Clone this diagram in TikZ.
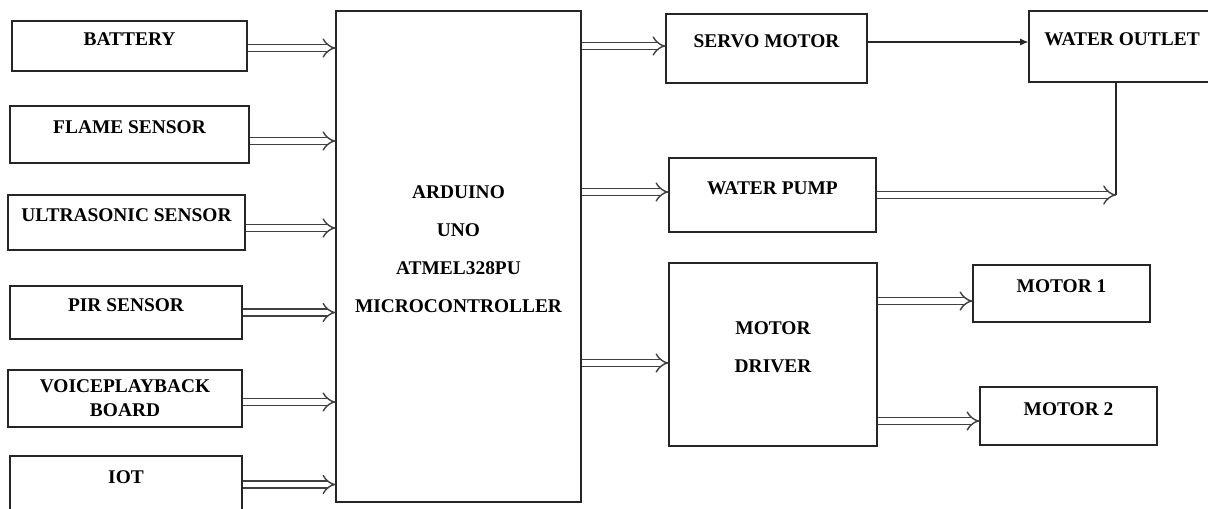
\documentclass[tikz,border=0pt]{standalone}
\usepackage{fontspec}
\setmainfont{Liberation Serif}
\usetikzlibrary{arrows.meta,calc}
\newcommand{\pxu}{0.025cm}
\tikzset{
  blk/.style 2 args={draw=black!85, line width=0.8pt, minimum width=#1*\pxu, minimum height=#2*\pxu, inner sep=0pt, align=center, font=\fontsize{13.8}{17}\selectfont\bfseries},
  up/.style={text depth=0.35cm},
  wide/.style={font=\fontsize{13.8}{27}\selectfont\bfseries},
  dbl/.style={draw=black!75, line width=1pt, double=white, double distance=3.8pt, -{Implies}},
  sgl/.style={draw=black!85, line width=0.8pt, -{Latex[length=6pt,width=5pt]}}
}

\begin{document}
\begin{tikzpicture}[x=0.025cm, y=-0.025cm]
  \useasboundingbox (0,0) rectangle (1208,508);

  % inputs
  \node[blk={235}{50}, up] (bat) at (129.5,46) {BATTERY};
  \node[blk={239}{57}, up] (flame) at (129.5,134.5) {FLAME SENSOR};
  \node[blk={237}{55}, up] (ultra) at (126.5,222.5) {ULTRASONIC SENSOR};
  \node[blk={232}{53}, up] (pir) at (126,312.5) {PIR SENSOR};
  \node[blk={234}{57}] (voice) at (125,398.5) {VOICEPLAYBACK\\BOARD};
  \node[blk={232}{57}, up] (iot) at (126,484.5) {IOT};

  % controller
  \node[blk={245}{491}, up, wide] (ard) at (458.5,256.5) {ARDUINO\\UNO\\ATMEL328PU\\MICROCONTROLLER};

  % outputs
  \node[blk={201}{69}, up] (servo) at (766.5,48.5) {SERVO MOTOR};
  \node[blk={207}{74}, up] (pump) at (772.5,195) {WATER PUMP};
  \node[blk={186}{71}, up] (outlet) at (1122,46.5) {WATER OUTLET};
  \node[blk={208}{183}, up, wide] (drv) at (773,354.5) {MOTOR\\DRIVER};
  \node[blk={177}{57}, up] (m1) at (1061.5,293.5) {MOTOR 1};
  \node[blk={177}{58}, up] (m2) at (1068.5,416) {MOTOR 2};

  % input arrows
  \draw[dbl] ($(bat.east)+(0,2)$) coordinate (a1) -- (a1 -| ard.west);
  \draw[dbl] ($(flame.east)+(0,6.5)$) coordinate (a2) -- (a2 -| ard.west);
  \draw[dbl] ($(ultra.east)+(0,5.5)$) coordinate (a3) -- (a3 -| ard.west);
  \draw[dbl] (pir.east) -- (pir.east -| ard.west);
  \draw[dbl] ($(voice.east)+(0,3.5)$) coordinate (a5) -- (a5 -| ard.west);
  \draw[dbl] (iot.east) -- (iot.east -| ard.west);

  % output arrows
  \coordinate (b1) at ($(servo.west)+(0,-2.5)$);
  \coordinate (b2) at ($(pump.west)+(0,-3)$);
  \coordinate (b3) at ($(drv.west)+(0,8.5)$);
  \draw[dbl] (b1 -| ard.east) -- (b1);
  \draw[dbl] (b2 -| ard.east) -- (b2);
  \draw[dbl] (b3 -| ard.east) -- (b3);
  \coordinate (c1) at ($(m1.west)+(0,7.5)$);
  \coordinate (c2) at ($(m2.west)+(0,5)$);
  \draw[dbl] (c1 -| drv.east) -- (c1);
  \draw[dbl] (c2 -| drv.east) -- (c2);

  % water path
  \draw[sgl] ($(servo.east)+(0,-6.5)$) coordinate (s1) -- (s1 -| outlet.west);
  \coordinate (o1) at ($(outlet.south)+(-6,0)$);
  \draw[dbl] (pump.east) -- (pump.east -| o1);
  \draw[draw=black!85, line width=0.8pt] (o1) -- (pump.east -| o1);
\end{tikzpicture}
\end{document}
